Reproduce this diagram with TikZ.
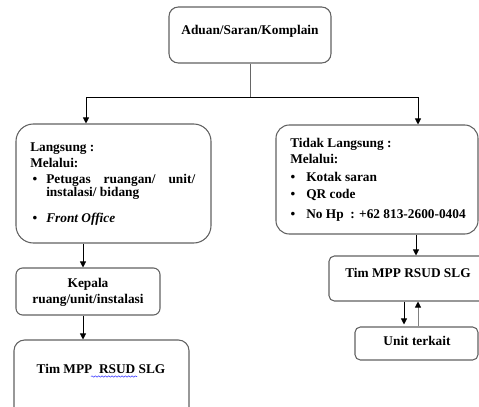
\documentclass[tikz,border=0pt]{standalone}
\usepackage{fontspec}
\setmainfont{Liberation Serif}
\usetikzlibrary{arrows.meta,fit,decorations.pathmorphing}

\begin{document}
\begin{tikzpicture}[x=0.75pt, y=-0.75pt, every node/.style={font=\fontsize{10}{12}\selectfont\bfseries},
  >={Triangle[length=4.5pt,width=4.5pt]},
  box/.style={draw=black!62, line width=0.8pt, inner sep=0pt},
  txt/.style={anchor=base west, inner sep=0pt},
  arr/.style={->, line width=0.6pt}]
	\clip (0,0) rectangle (479,407);
	% boxes
	\node[box, rounded corners=7pt, fit={(169,7) (331,63)}] (aduan) {};
	\node[box, rounded corners=13pt, fit={(16,124) (211,243)}] (lang) {};
	\node[box, rounded corners=10pt, fit={(276,125) (478,234)}] (tidak) {};
	\node[box, rounded corners=5pt, fit={(16,268) (160,315)}] (kepala) {};
	\node[box, rounded corners=8pt, fit={(14,340) (189,430)}] (timL) {};
	\node[box, rounded corners=4pt, fit={(329,256) (490,301)}] (timR) {};
	\node[box, rounded corners=4pt, fit={(355,327) (478,360)}] (unit) {};
	% texts
	\node[txt, anchor=base] (aduantxt) at (250,35) {Aduan/Saran/Komplain};
	\node[txt] (langtxt) at (30,151) {Langsung :};
	\node[txt] (langvia) at (30,167) {Melalui:};
	\node[txt] (petugas) at (46,183) {\hbox to 111.75pt{Petugas\hfill ruangan/\hfill unit/}};
	\node[txt] (instalasi) at (46,196) {instalasi/ bidang};
	\node[txt] (front) at (46,222) {\itshape Front Office};
	\foreach \y in {183,222} {\node[txt, anchor=base] (bl\y) at (35,\y) {\textbullet};}
	\node[txt] (tidaktxt) at (290,147) {Tidak Langsung :};
	\node[txt] (tidakvia) at (290,163) {Melalui:};
	\node[txt] (kotak) at (306,181) {Kotak saran};
	\node[txt] (qr) at (306,198) {QR code};
	\node[txt] (hp) at (306,218) {No Hp\ \ : +62 813-2600-0404};
	\foreach \y in {181,198,218} {\node[txt, anchor=base] (br\y) at (293,\y) {\textbullet};}
	\node[txt, anchor=base] (kepalatxt) at (88,287) {Kepala};
	\node[txt, anchor=base] (ruangtxt) at (88,303) {ruang/unit/instalasi};
	\node[txt, anchor=base] (timLtxt) at (101,373) {Tim MPP\ \ RSUD SLG};
	\node[txt, anchor=base] (timRtxt) at (408,277) {Tim MPP RSUD SLG};
	\node[txt, anchor=base] (unittxt) at (417,345) {Unit terkait};
	\draw[blue!80, line width=0.4pt, decorate, decoration={snake, amplitude=0.5pt, segment length=2.5pt}] (91,376.5) -- (137,376.5);
	% connectors
	\coordinate (split) at (250,97);
	\coordinate (lx) at (86,97);
	\coordinate (rx) at (418,97);
	\draw[line width=0.6pt, black!60] (aduan.south) -- (split);
	\draw[line width=0.6pt] (lx) -- (rx);
	\draw[arr] (lx) -- (lx |- lang.north);
	\draw[arr] (rx) -- (rx |- tidak.north);
	\coordinate (lc) at (83,0);
	\coordinate (rc) at (416,0);
	\coordinate (dn) at (404,0);
	\coordinate (up) at (418,0);
	\draw[arr] (lc |- lang.south) -- (lc |- kepala.north);
	\draw[arr] (lc |- kepala.south) -- (lc |- timL.north);
	\draw[arr] (rc |- tidak.south) -- (rc |- timR.north);
	\draw[arr, shorten >=1.5pt] (dn |- timR.south) -- (dn |- unit.north);
	\draw[black!50, line width=0.6pt, -{Triangle[length=4.5pt,width=4.5pt,black]}] (up |- unit.north) -- (up |- timR.south);
\end{tikzpicture}
\end{document}
